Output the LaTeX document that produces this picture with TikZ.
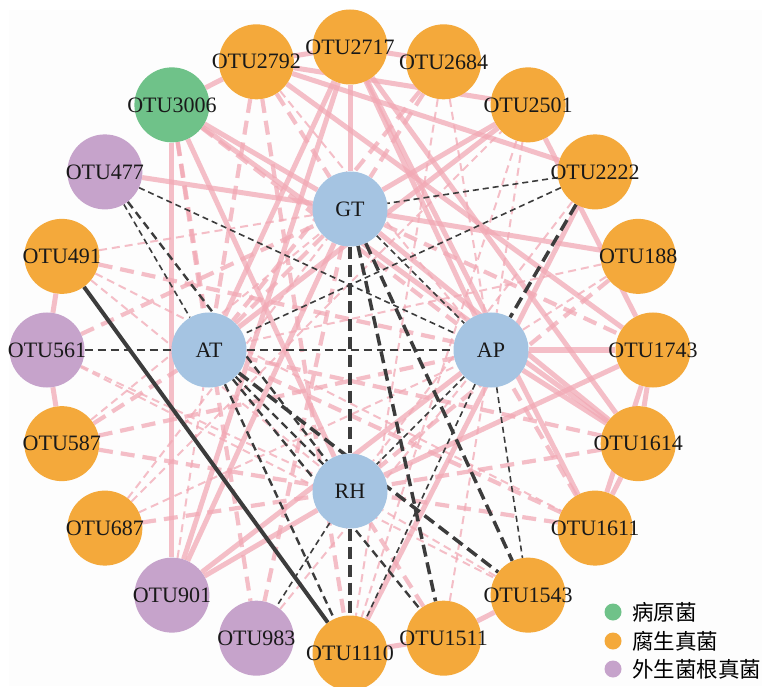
\documentclass[tikz,border=0pt]{standalone}
\usepackage{fontspec}
\setmainfont{Liberation Serif}
\newfontfamily\cjkfont{Noto Sans CJK SC}
\usetikzlibrary{calc}
\pgfdeclarelayer{back}
\pgfdeclarelayer{edges}
\pgfsetlayers{back,edges,main}
\definecolor{orangeN}{HTML}{F4A93B}
\definecolor{greenN}{HTML}{6FC289}
\definecolor{purpleN}{HTML}{C6A3CB}
\definecolor{blueN}{HTML}{A5C4E2}
\definecolor{pinkE}{HTML}{F2A9B5}
\definecolor{darkE}{HTML}{3C3C3C}
\definecolor{bgpaper}{HTML}{FDFDFD}
\newcommand\nodetxt[1]{\makebox[0pt]{#1}}
\tikzset{
  otu/.style={circle, minimum size=75pt, inner sep=0pt, fill=#1, font=\fontsize{22}{25}\selectfont, text=black!90},
  pinksolid/.style={draw=pinkE, draw opacity=0.75, line width=5pt},
  pinkdash/.style={draw=pinkE, draw opacity=0.75, line width=4.2pt, dash pattern=on 14pt off 8pt},
  pinkthin/.style={draw=pinkE, draw opacity=0.75, line width=2pt, dash pattern=on 8pt off 5pt},
  darkthin/.style={draw=darkE, line width=1.6pt, dash pattern=on 6pt off 4pt},
  darkmid/.style={draw=darkE, line width=2.4pt, dash pattern=on 8pt off 5pt},
  darkthick/.style={draw=darkE, line width=3.5pt, dash pattern=on 12pt off 6pt},
  darksolid/.style={draw=darkE, line width=4pt},
  legdot/.style={circle, minimum size=17pt, inner sep=0pt},
  legtxt/.style={anchor=west, inner sep=0pt, font=\cjkfont\fontsize{21.5}{24}\selectfont}
}
\begin{document}
\begin{tikzpicture}[x=1pt,y=1pt]
\useasboundingbox (0,0) rectangle (762,686);
\begin{pgfonlayer}{back}
\fill[white] (0,0) rectangle (762,686);
\fill[bgpaper] (9,0) rectangle (762,676);
\end{pgfonlayer}
\coordinate (C) at (350,336);
% outer ring
\node[otu=orangeN] (o2717) at ($(C)+(90:303)$) {\nodetxt{OTU2717}};
\node[otu=orangeN] (o2684) at ($(C)+(72:303)$) {\nodetxt{OTU2684}};
\node[otu=orangeN] (o2501) at ($(C)+(54:303)$) {\nodetxt{OTU2501}};
\node[otu=orangeN] (o2222) at ($(C)+(36:303)$) {\nodetxt{OTU2222}};
\node[otu=orangeN] (o188) at ($(C)+(18:303)$) {\nodetxt{OTU188}};
\node[otu=orangeN] (o1743) at ($(C)+(0:303)$) {\nodetxt{OTU1743}};
\node[otu=orangeN] (o1614) at ($(C)+(-18:303)$) {\nodetxt{OTU1614}};
\node[otu=orangeN] (o1611) at ($(C)+(-36:303)$) {\nodetxt{OTU1611}};
\node[otu=orangeN] (o1543) at ($(C)+(-54:303)$) {\nodetxt{OTU1543}};
\node[otu=orangeN] (o1511) at ($(C)+(-72:303)$) {\nodetxt{OTU1511}};
\node[otu=orangeN] (o1110) at ($(C)+(-90:303)$) {\nodetxt{OTU1110}};
\node[otu=purpleN] (o983) at ($(C)+(-108:303)$) {\nodetxt{OTU983}};
\node[otu=purpleN] (o901) at ($(C)+(-126:303)$) {\nodetxt{OTU901}};
\node[otu=orangeN] (o687) at ($(C)+(-144:303)$) {\nodetxt{OTU687}};
\node[otu=orangeN] (o587) at ($(C)+(-162:303)$) {\nodetxt{OTU587}};
\node[otu=purpleN] (o561) at ($(C)+(180:303)$) {\nodetxt{OTU561}};
\node[otu=orangeN] (o491) at ($(C)+(162:303)$) {\nodetxt{OTU491}};
\node[otu=purpleN] (o477) at ($(C)+(144:303)$) {\nodetxt{OTU477}};
\node[otu=greenN] (o3006) at ($(C)+(126:303)$) {\nodetxt{OTU3006}};
\node[otu=orangeN] (o2792) at ($(C)+(108:303)$) {\nodetxt{OTU2792}};
% inner
\node[otu=blueN] (GT) at ($(C)+(90:141)$) {\nodetxt{GT}};
\node[otu=blueN] (AT) at ($(C)+(180:141)$) {\nodetxt{AT}};
\node[otu=blueN] (AP) at ($(C)+(0:141)$) {\nodetxt{AP}};
\node[otu=blueN] (RH) at ($(C)+(-90:141)$) {\nodetxt{RH}};
% edges
\begin{pgfonlayer}{edges}
\foreach \a/\b in {o2792/o2717, o2717/o2684, o3006/o2792, o491/o561, o561/o587,
  o1743/o1614, o1743/o1611, o1614/o1611, o1543/o1511, o1511/o1110,
  o2792/o2501, o2792/o2222, o2501/o1743, o2717/GT, o2717/o1614, o2717/o1611,
  o2717/AP, o2717/o901, o2717/AT, o3006/o901, o3006/GT, o3006/o1614, o3006/RH,
  o477/GT, GT/o188, GT/o1614, GT/o901, o2501/GT, o2501/AT, o2222/o1110,
  AP/o1743, AP/o1614, AP/o901, RH/o901, RH/o1743, o2792/o1743}
  \draw[pinksolid] (\a) -- (\b);
\foreach \a/\b in {o2792/AT, o2792/o1110, o2792/GT, o3006/AT, o3006/o983, o3006/AP,
  GT/o983, o491/AP, o561/GT, o587/AT, o587/AP, o587/RH, o687/RH, o1511/RH,
  o1611/RH, o1611/AT, o1611/AP, o1614/AT, o1614/RH, o188/RH, GT/o1743,
  o2684/AT, o2684/GT, GT/AT}
  \draw[pinkdash] (\a) -- (\b);
\foreach \a/\b in {o2792/AP, o491/GT, o491/o1611, o491/RH, o561/RH, o561/o1543,
  o587/GT, o687/GT, o687/o2501, o687/AP, o901/AT, o983/AP, o1511/AP, o1543/RH,
  o188/AT, o188/AP, o2222/RH, o2501/o1110, o2501/AP, o2684/o1110, o2684/AP}
  \draw[pinkthin] (\a) -- (\b);
\foreach \a/\b in {o477/AP, o477/AT, o2222/GT, o2222/AT, GT/AP, AP/o1543,
  AP/o1110, AP/RH, RH/o983}
  \draw[darkthin] (\a) -- (\b);
\foreach \a/\b in {AT/AP, o561/AT, o477/RH, AT/RH, AT/o1110, AT/o1511}
  \draw[darkmid] (\a) -- (\b);
\foreach \a/\b in {GT/RH, o2222/AP, GT/o1511, GT/o1543, RH/o1110, AT/o1543}
  \draw[darkthick] (\a) -- (\b);
\draw[darksolid] (o491) -- (o1110);
\end{pgfonlayer}
% legend
\node[legdot, fill=greenN] (lg1) at (613,74) {};
\node[legdot, fill=orangeN] (lg2) at (613,45) {};
\node[legdot, fill=purpleN] (lg3) at (613,17) {};
\node[legtxt] (lt1) at (632,74) {病原菌};
\node[legtxt] (lt2) at (632,45) {腐生真菌};
\node[legtxt] (lt3) at (632,17) {外生菌根真菌};
\end{tikzpicture}
\end{document}
